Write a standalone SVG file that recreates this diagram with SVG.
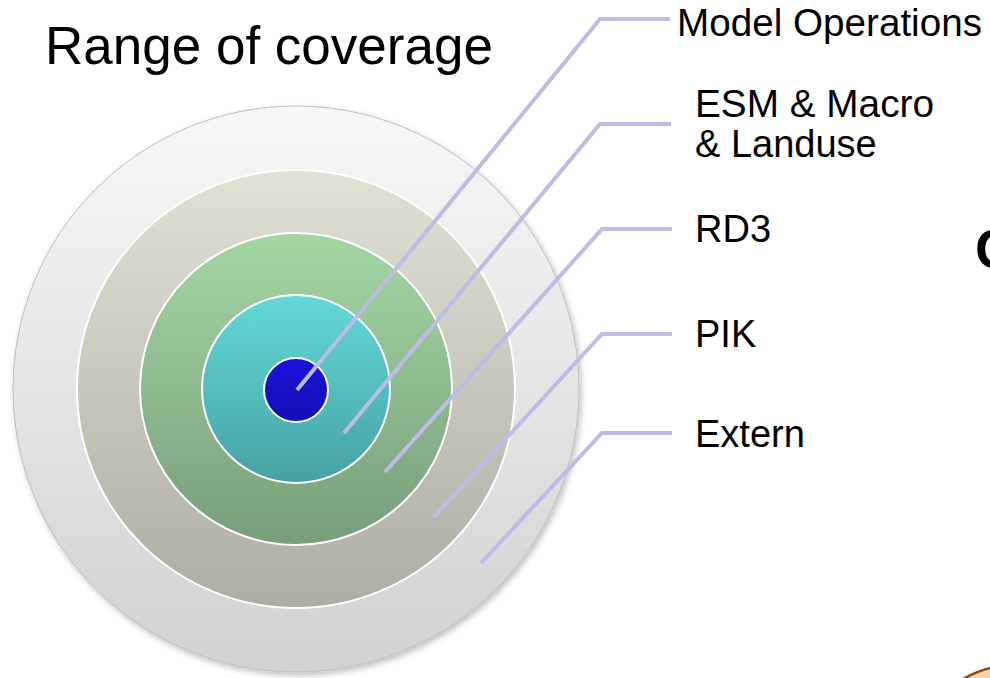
<svg xmlns="http://www.w3.org/2000/svg" width="990" height="678" viewBox="0 0 990 678">
  <style>
    .lbl { font-family: "Liberation Sans", Arial, sans-serif; font-size: 38px; fill: #000; }
    .title { font-family: "Liberation Sans", Arial, sans-serif; font-size: 53px; fill: #000; }
    .ring { stroke: #ffffff; stroke-width: 2; }
    .conn { fill: none; stroke: #bcbce6; stroke-width: 4; stroke-linejoin: miter; }
  </style>
  <defs>
    <linearGradient id="gOuter" x1="0" y1="0" x2="0" y2="1">
      <stop offset="0" stop-color="#f8f8f8"/>
      <stop offset="1" stop-color="#d2d2d2"/>
    </linearGradient>
    <linearGradient id="gBeige" x1="0" y1="0" x2="0" y2="1">
      <stop offset="0" stop-color="#e2e1d6"/>
      <stop offset="1" stop-color="#aeada3"/>
    </linearGradient>
    <linearGradient id="gGreen" x1="0" y1="0" x2="0" y2="1">
      <stop offset="0" stop-color="#a4d6a4"/>
      <stop offset="1" stop-color="#789e7a"/>
    </linearGradient>
    <linearGradient id="gTeal" x1="0" y1="0" x2="0" y2="1">
      <stop offset="0" stop-color="#64d8d8"/>
      <stop offset="1" stop-color="#45a2a2"/>
    </linearGradient>
    <linearGradient id="gBlue" x1="0" y1="0" x2="0" y2="1">
      <stop offset="0" stop-color="#1c12dc"/>
      <stop offset="1" stop-color="#1010b4"/>
    </linearGradient>
    <linearGradient id="gOrange" x1="0" y1="0" x2="0" y2="1">
      <stop offset="0" stop-color="#fcd2a8"/>
      <stop offset="1" stop-color="#f6b478"/>
    </linearGradient>
    <filter id="shadow" x="-10%" y="-10%" width="120%" height="120%">
      <feGaussianBlur in="SourceAlpha" stdDeviation="3"/>
      <feOffset dx="2" dy="3"/>
      <feComponentTransfer><feFuncA type="linear" slope="0.25"/></feComponentTransfer>
      <feMerge><feMergeNode/><feMergeNode in="SourceGraphic"/></feMerge>
    </filter>
  </defs>

  <rect width="990" height="678" fill="#ffffff"/>

  <text class="title" x="45" y="64">Range of coverage</text>

  <g id="ring-extern">
    <circle cx="296" cy="389" r="283" fill="url(#gOuter)" stroke="#bdbdbd" stroke-width="1" filter="url(#shadow)"/>
  </g>
  <g id="ring-pik">
    <circle class="ring" cx="296" cy="389" r="219" fill="url(#gBeige)"/>
  </g>
  <g id="ring-rd3">
    <circle class="ring" cx="296" cy="389" r="156" fill="url(#gGreen)"/>
  </g>
  <g id="ring-esm">
    <circle class="ring" cx="296" cy="389" r="94" fill="url(#gTeal)"/>
  </g>
  <g id="core-model">
    <circle class="ring" cx="296" cy="390" r="32" fill="url(#gBlue)"/>
  </g>

  <g id="connectors">
    <polyline class="conn" points="297,390 600,19 670,19"/>
    <polyline class="conn" points="344,433 600,124 671,124"/>
    <polyline class="conn" points="385,472 602,229 672,229"/>
    <polyline class="conn" points="434,517 602,334 672,334"/>
    <polyline class="conn" points="481,563 602,433 672,433"/>
  </g>

  <g id="label-model"><text class="lbl" x="677" y="36" font-size="40" textLength="305" lengthAdjust="spacingAndGlyphs">Model Operations</text></g>
  <g id="label-esm">
    <text class="lbl" x="695" y="117" font-size="39" textLength="239" lengthAdjust="spacingAndGlyphs">ESM &amp; Macro</text>
    <text class="lbl" x="695" y="157">&amp; Landuse</text>
  </g>
  <g id="label-rd3"><text class="lbl" x="695" y="242">RD3</text></g>
  <g id="label-pik"><text class="lbl" x="695" y="347">PIK</text></g>
  <g id="label-extern"><text class="lbl" x="695" y="447">Extern</text></g>

  <text x="975" y="268" font-family="Liberation Sans, Arial, sans-serif" font-size="55" font-weight="bold" fill="#000">C</text>

  <circle cx="1020" cy="780" r="116" fill="url(#gOrange)" stroke="#8a4a08" stroke-width="2.5"/>
</svg>
